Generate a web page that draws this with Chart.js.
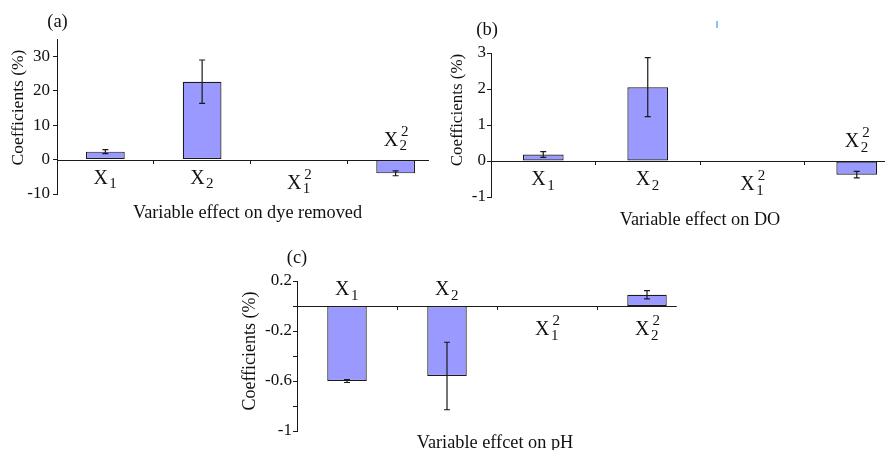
<!DOCTYPE html>
<html><head><meta charset="utf-8">
<script src="https://cdn.jsdelivr.net/npm/chart.js@4.4.0/dist/chart.umd.min.js"></script>
<style>
html,body{margin:0;padding:0;width:885px;height:450px;overflow:hidden;background:#fff;position:relative}
canvas{position:absolute}
#ca{left:0;top:0}
#cb{left:440px;top:0}
#cc{left:230px;top:235px}
.art{position:absolute;left:716px;top:21px;width:2px;height:7px;background:#8cc0ff}
</style></head><body>
<canvas id="ca" width="450" height="230"></canvas>
<canvas id="cb" width="475" height="235"></canvas>
<canvas id="cc" width="470" height="215"></canvas>
<div class="art"></div>
<script>
// ---- data ----
const categories = ['X1', 'X2', 'X1²', 'X2²'];
const catSub = ['1', '2', '1', '2'];
const catSup = ['', '', '2', '2'];

const dyeValues = [2.3, 22.6, 0, -4.0];
const dyeErrors = [0.6, 6.3, 0, 0.7];
const dyeTickLabels = ['-10', '0', '10', '20', '30'];

const doValues = [0.18, 2.05, 0, -0.38];
const doErrors = [0.08, 0.82, 0, 0.09];
const doTickLabels = ['-1', '0', '1', '2', '3'];

const phValues = [-0.60, -0.56, 0, 0.09];
const phErrors = [0.012, 0.27, 0, 0.033];
const phTickLabels = ['-1', '-0.6', '-0.2', '0.2'];

const FONT = '"Liberation Serif", "Times New Roman", serif';
const INK = '#1a1a1a';
const TXT = '#111111';
const fmt = v => String(Math.round(v * 10) / 10);

function makePanel(id, cfg) {
  const deco = {
    id: 'deco',
    afterDatasetsDraw(chart) {
      const ctx = chart.ctx, area = chart.chartArea;
      const xs = chart.scales.x, ys = chart.scales.y;
      const meta = chart.getDatasetMeta(0);
      const y0 = ys.getPixelForValue(0);
      ctx.save();
      // error bars
      ctx.strokeStyle = INK; ctx.lineWidth = 1.2;
      cfg.values.forEach((v, i) => {
        const e = cfg.errors[i]; if (!e) return;
        const x = meta.data[i].x;
        const yt = ys.getPixelForValue(v + e), yb = ys.getPixelForValue(v - e);
        ctx.beginPath();
        ctx.moveTo(x, yt); ctx.lineTo(x, yb);
        ctx.moveTo(x - 3, yt); ctx.lineTo(x + 3, yt);
        ctx.moveTo(x - 3, yb); ctx.lineTo(x + 3, yb);
        ctx.stroke();
      });
      // zero line
      const last = meta.data[meta.data.length - 1];
      const end = last.x + last.width / 2 + cfg.lineExtra;
      ctx.lineWidth = 1;
      ctx.beginPath();
      ctx.moveTo(area.left, Math.round(y0) + 0.5);
      ctx.lineTo(end, Math.round(y0) + 0.5);
      ctx.stroke();
      // category labels
      ctx.fillStyle = TXT; ctx.textAlign = 'left'; ctx.textBaseline = 'alphabetic';
      categories.forEach((c, i) => {
        const x = xs.getPixelForValue(i);
        const sub = catSub[i], sup = catSup[i];
        const above = cfg.values[i] < 0;
        const base = above ? y0 - 11 - (sup ? 3 : 0) : y0 + 24 + (sup ? 5 : 0);
        ctx.font = '20px ' + FONT;
        const wX = ctx.measureText('X').width;
        ctx.font = '15px ' + FONT;
        const wS = Math.max(ctx.measureText(sub).width, sup ? ctx.measureText(sup).width : 0);
        const lx = x - (wX + 2 + wS) / 2;
        ctx.font = '20px ' + FONT;
        ctx.fillText('X', lx, base);
        ctx.font = '15px ' + FONT;
        ctx.fillText(sub, lx + wX + 1.5, base + 4.5);
        if (sup) ctx.fillText(sup, lx + wX + 3, base - 10);
      });
      // titles
      ctx.textAlign = 'center'; ctx.textBaseline = 'middle';
      ctx.font = '18.3px ' + FONT;
      ctx.fillText(cfg.xTitle, (area.left + area.right) / 2 + cfg.xTitleDx, cfg.xTitleY);
      ctx.save();
      ctx.translate(cfg.yTitleX, (area.top + area.bottom) / 2 + cfg.yTitleDy);
      ctx.rotate(-Math.PI / 2);
      ctx.font = cfg.yTitleSize + 'px ' + FONT;
      ctx.fillText('Coefficients (%)', 0, 0);
      ctx.restore();
      ctx.font = '18.5px ' + FONT;
      ctx.fillText(cfg.panel, cfg.panelX, cfg.panelY);
      ctx.restore();
    }
  };

  return new Chart(document.getElementById(id), {
    type: 'bar',
    data: {
      labels: categories,
      datasets: [{
        data: cfg.values,
        backgroundColor: '#9999ff',
        borderColor: INK,
        borderWidth: 1.2,
        borderSkipped: false,
        barPercentage: cfg.barPct,
        categoryPercentage: 1
      }]
    },
    options: {
      responsive: false,
      animation: false,
      layout: { padding: { left: 0, right: cfg.padR, top: cfg.padT, bottom: cfg.padB } },
      plugins: { legend: { display: false }, tooltip: { enabled: false } },
      scales: {
        x: {
          type: 'category',
          position: { y: 0 },
          border: { display: false },
          ticks: { display: false },
          grid: {
            display: true, offset: true, drawOnChartArea: false, drawTicks: true, tickLength: 4,
            color: c => (c.type !== 'tick' || c.index === 0) ? 'rgba(0,0,0,0)' : INK
          }
        },
        y: {
          min: cfg.min, max: cfg.max,
          afterFit(s) { s.width = cfg.yWidth; },
          border: { display: true, color: INK, width: 1 },
          grid: { display: true, drawOnChartArea: false, drawTicks: true, tickLength: 4, color: INK },
          ticks: {
            stepSize: cfg.step, padding: cfg.tickPad, color: TXT,
            font: { family: FONT, size: 17 },
            callback: v => cfg.tickLabels.includes(fmt(v)) ? fmt(v) : ''
          },
          title: { display: false }
        }
      }
    },
    plugins: [deco]
  });
}

makePanel('ca', {
  values: dyeValues, errors: dyeErrors, tickLabels: dyeTickLabels,
  min: -10, max: 35, step: 5, yWidth: 57, padT: 39, padB: 36, padR: 6, tickPad: 3,
  barPct: 0.40, lineExtra: 14,
  xTitle: 'Variable effect on dye removed', xTitleDx: -3, xTitleY: 213,
  yTitleX: 18, yTitleDy: -9, yTitleSize: 17.5, panel: '(a)', panelX: 57.5, panelY: 22
});
makePanel('cb', {
  values: doValues, errors: doErrors, tickLabels: doTickLabels,
  min: -1, max: 3, step: 0.5, yWidth: 51, padT: 53, padB: 38, padR: 6, tickPad: 1,
  barPct: 0.39, lineExtra: 12,
  xTitle: 'Variable effect on DO', xTitleDx: 0, xTitleY: 220,
  yTitleX: 18, yTitleDy: -15, yTitleSize: 17, panel: '(b)', panelX: 47, panelY: 30
});
makePanel('cc', {
  values: phValues, errors: phErrors, tickLabels: phTickLabels,
  min: -1, max: 0.2, step: 0.2, yWidth: 67, padT: 46, padB: 19, padR: 3, tickPad: 1,
  barPct: 0.395, lineExtra: 10,
  xTitle: 'Variable effcet on pH', xTitleDx: -2, xTitleY: 208,
  yTitleX: 20.5, yTitleDy: -5, yTitleSize: 18, panel: '(c)', panelX: 67, panelY: 23.5
});
</script>
</body></html>
